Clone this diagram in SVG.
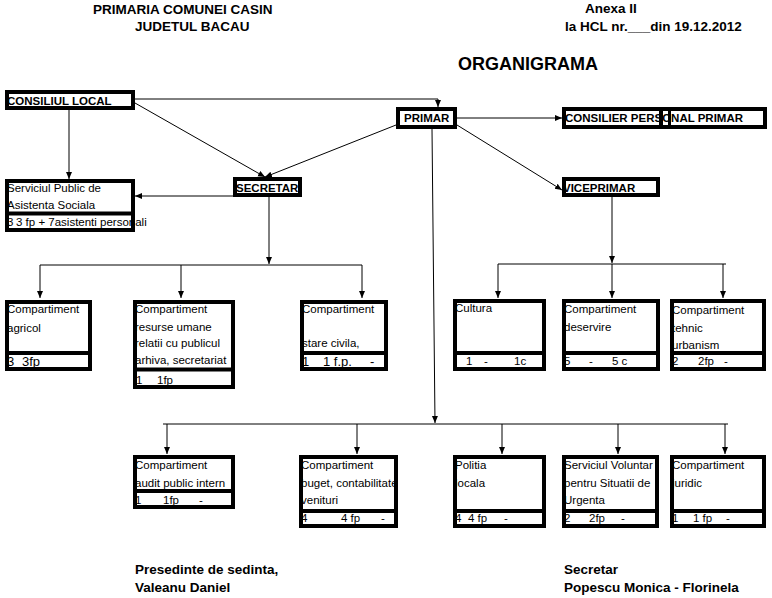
<svg xmlns="http://www.w3.org/2000/svg" width="772" height="598" viewBox="0 0 772 598">
<style>
text{font-family:"Liberation Sans",Arial,sans-serif;fill:#000}
.t{font-size:11.5px}
.tl{font-size:13px}
.b{font-size:11.5px;font-weight:bold}
.h{font-size:13.5px;font-weight:bold}
.ttl{font-size:18px;font-weight:bold}
.bg{fill:#fff}
.bd{fill:none;stroke:#000;stroke-width:4}
.dv{stroke:#000;stroke-width:4}
.c{fill:none;stroke:#000;stroke-width:1}
.a{marker-end:url(#ah)}
</style>
<defs>
<marker id="ah" markerWidth="8" markerHeight="8" refX="7" refY="3" orient="auto" markerUnits="userSpaceOnUse"><path d="M0,0 L7,3 L0,6 z" fill="#000"/></marker>
</defs>
<rect width="772" height="598" fill="#fff"/>

<g id="header">
<text class="h" x="93" y="14">PRIMARIA COMUNEI CASIN</text>
<text class="h" x="135" y="31">JUDETUL BACAU</text>
<text class="h" x="585" y="13">Anexa II</text>
<text class="h" x="565" y="31">la HCL nr.___din 19.12.2012</text>
<text class="ttl" x="458" y="70">ORGANIGRAMA</text>
</g>

<g id="connectors">
<path class="c a" d="M135,99 H438 V107"/>
<path class="c a" d="M135,103 L265,177"/>
<path class="c a" d="M396,125 L265,177"/>
<path class="c a" d="M69,110 V179"/>
<path class="c a" d="M233,196 H135"/>
<path class="c a" d="M457,118 H562"/>
<path class="c a" d="M457,125 L562,190"/>
<path class="c a" d="M269,197 V264"/>
<path class="c" d="M40,265 H362"/>
<path class="c a" d="M40,265 V298"/>
<path class="c a" d="M181,265 V298"/>
<path class="c a" d="M362,265 V298"/>
<path class="c a" d="M612,197 V263"/>
<path class="c" d="M498,264 H726"/>
<path class="c a" d="M498,264 V298"/>
<path class="c a" d="M612,264 V298"/>
<path class="c a" d="M723,264 V298"/>
<path class="c a" d="M432,129 L435,423"/>
<path class="c" d="M163,424 H728"/>
<path class="c a" d="M167,424 V454"/>
<path class="c a" d="M357,424 V454"/>
<path class="c a" d="M502,424 V454"/>
<path class="c a" d="M618,424 V454"/>
<path class="c a" d="M725,424 V454"/>
</g>

<g id="consiliul-local">
<rect class="bg" x="5" y="90" width="130" height="20"/>
<text class="b" x="7" y="105">CONSILIUL LOCAL</text>
<rect class="bd" x="7" y="92" width="126" height="16"/>
</g>

<g id="primar">
<rect class="bg" x="396" y="107" width="61" height="22"/>
<text class="b" x="404" y="122">PRIMAR</text>
<rect class="bd" x="398" y="109" width="57" height="18"/>
</g>

<g id="consilier">
<rect class="bg" x="562" y="107" width="205" height="22"/>
<text class="b" x="565" y="122">CONSILIER PERSONAL PRIMAR</text>
<rect class="bd" x="564" y="109" width="201" height="18"/>
<line class="dv" x1="661" y1="107" x2="661" y2="129"/>
<line stroke="#000" stroke-width="3" x1="669.5" y1="107" x2="669.5" y2="129"/>
</g>

<g id="viceprimar">
<rect class="bg" x="562" y="177" width="98" height="20"/>
<text class="b" x="563" y="192">VICEPRIMAR</text>
<rect class="bd" x="564" y="179" width="94" height="16"/>
</g>

<g id="secretar">
<rect class="bg" x="233" y="177" width="69" height="20"/>
<text class="b" x="236" y="192">SECRETAR</text>
<rect class="bd" x="235" y="179" width="65" height="16"/>
</g>

<g id="asistenta-sociala">
<rect class="bg" x="5" y="179" width="130" height="53"/>
<text class="t" x="7" y="192">Serviciul Public de</text>
<text class="t" x="7" y="209">Asistenta Sociala</text>
<text class="t" x="7" y="226">3</text>
<text class="t" x="16" y="226">3 fp + 7asistenti personali</text>
<rect class="bd" x="7" y="181" width="126" height="49"/>
<line class="dv" x1="5" y1="213.5" x2="135" y2="213.5"/>
</g>

<g id="agricol">
<rect class="bg" x="5" y="300" width="87" height="71"/>
<text class="t" x="7" y="313">Compartiment</text>
<text class="t" x="7" y="332">agricol</text>
<text class="tl" x="7" y="366">3</text>
<text class="tl" x="22" y="366">3fp</text>
<rect class="bd" x="7" y="302" width="83" height="67"/>
<line class="dv" x1="5" y1="353" x2="92" y2="353"/>
</g>

<g id="resurse-umane">
<rect class="bg" x="133" y="300" width="102" height="89"/>
<text class="t" x="135" y="313">Compartiment</text>
<text class="t" x="135" y="331">resurse  umane</text>
<text class="t" x="135" y="347">relatii cu publicul</text>
<text class="t" x="135" y="364">arhiva, secretariat</text>
<text class="t" x="136" y="384">1</text>
<text class="t" x="157" y="384">1fp</text>
<rect class="bd" x="135" y="302" width="98" height="85"/>
<line class="dv" x1="133" y1="369.5" x2="235" y2="369.5"/>
</g>

<g id="stare-civila">
<rect class="bg" x="300" y="300" width="88" height="71"/>
<text class="t" x="302" y="313">Compartiment</text>
<text class="t" x="302" y="347">stare civila,</text>
<text class="tl" x="302" y="366">1</text>
<text class="tl" x="323" y="366">1 f.p.</text>
<text class="tl" x="370" y="366">-</text>
<rect class="bd" x="302" y="302" width="84" height="67"/>
<line class="dv" x1="300" y1="353" x2="388" y2="353"/>
</g>

<g id="cultura">
<rect class="bg" x="453" y="299" width="93" height="72"/>
<text class="t" x="455" y="312">Cultura</text>
<text class="t" x="466" y="365">1</text>
<text class="t" x="484" y="365">-</text>
<text class="t" x="514" y="365">1c</text>
<rect class="bd" x="455" y="301" width="89" height="68"/>
<line class="dv" x1="453" y1="353" x2="546" y2="353"/>
</g>

<g id="deservire">
<rect class="bg" x="562" y="299" width="98" height="72"/>
<text class="t" x="564" y="313">Compartiment</text>
<text class="t" x="564" y="331">deservire</text>
<text class="t" x="564" y="365">5</text>
<text class="t" x="589" y="365">-</text>
<text class="t" x="612" y="365">5 c</text>
<rect class="bd" x="564" y="301" width="94" height="68"/>
<line class="dv" x1="562" y1="353" x2="660" y2="353"/>
</g>

<g id="tehnic-urbanism">
<rect class="bg" x="670" y="299" width="96" height="72"/>
<text class="t" x="672" y="314">Compartiment</text>
<text class="t" x="672" y="332">tehnic</text>
<text class="t" x="672" y="349">urbanism</text>
<text class="t" x="672" y="365">2</text>
<text class="t" x="698" y="365">2fp</text>
<text class="t" x="724" y="365">-</text>
<rect class="bd" x="672" y="301" width="92" height="68"/>
<line class="dv" x1="670" y1="353" x2="766" y2="353"/>
</g>

<g id="audit">
<rect class="bg" x="133" y="455" width="102" height="54"/>
<text class="t" x="135" y="469">Compartiment</text>
<text class="t" x="135" y="487">audit public intern</text>
<text class="t" x="135" y="504">1</text>
<text class="t" x="163" y="504">1fp</text>
<text class="t" x="199" y="504">-</text>
<rect class="bd" x="135" y="457" width="98" height="50"/>
<line class="dv" x1="133" y1="491" x2="235" y2="491"/>
</g>

<g id="buget">
<rect class="bg" x="299" y="455" width="99" height="73"/>
<text class="t" x="301" y="469">Compartiment</text>
<text class="t" x="301" y="487">buget, contabilitate</text>
<text class="t" x="301" y="504">venituri</text>
<text class="t" x="301" y="522">4</text>
<text class="t" x="341" y="522">4 fp</text>
<text class="t" x="381" y="522">-</text>
<rect class="bd" x="301" y="457" width="95" height="69"/>
<line class="dv" x1="299" y1="511" x2="398" y2="511"/>
</g>

<g id="politia">
<rect class="bg" x="453" y="455" width="93" height="73"/>
<text class="t" x="455" y="469">Politia</text>
<text class="t" x="455" y="487">locala</text>
<text class="t" x="455" y="522">4</text>
<text class="t" x="468" y="522">4 fp</text>
<text class="t" x="504" y="522">-</text>
<rect class="bd" x="455" y="457" width="89" height="69"/>
<line class="dv" x1="453" y1="511" x2="546" y2="511"/>
</g>

<g id="situatii-urgenta">
<rect class="bg" x="562" y="455" width="97" height="73"/>
<text class="t" x="564" y="469">Serviciul Voluntar</text>
<text class="t" x="564" y="487">pentru Situatii de</text>
<text class="t" x="564" y="504">Urgenta</text>
<text class="t" x="564" y="522">2</text>
<text class="t" x="589" y="522">2fp</text>
<text class="t" x="621" y="522">-</text>
<rect class="bd" x="564" y="457" width="93" height="69"/>
<line class="dv" x1="562" y1="511" x2="659" y2="511"/>
</g>

<g id="juridic">
<rect class="bg" x="670" y="455" width="96" height="73"/>
<text class="t" x="672" y="469">Compartiment</text>
<text class="t" x="672" y="487">juridic</text>
<text class="t" x="672" y="522">1</text>
<text class="t" x="693" y="522">1 fp</text>
<text class="t" x="726" y="522">-</text>
<rect class="bd" x="672" y="457" width="92" height="69"/>
<line class="dv" x1="670" y1="511" x2="766" y2="511"/>
</g>

<g id="footer">
<text class="h" x="135" y="574">Presedinte de sedinta,</text>
<text class="h" x="135" y="592">Valeanu Daniel</text>
<text class="h" x="564" y="574">Secretar</text>
<text class="h" x="564" y="592">Popescu Monica - Florinela</text>
</g>
</svg>
